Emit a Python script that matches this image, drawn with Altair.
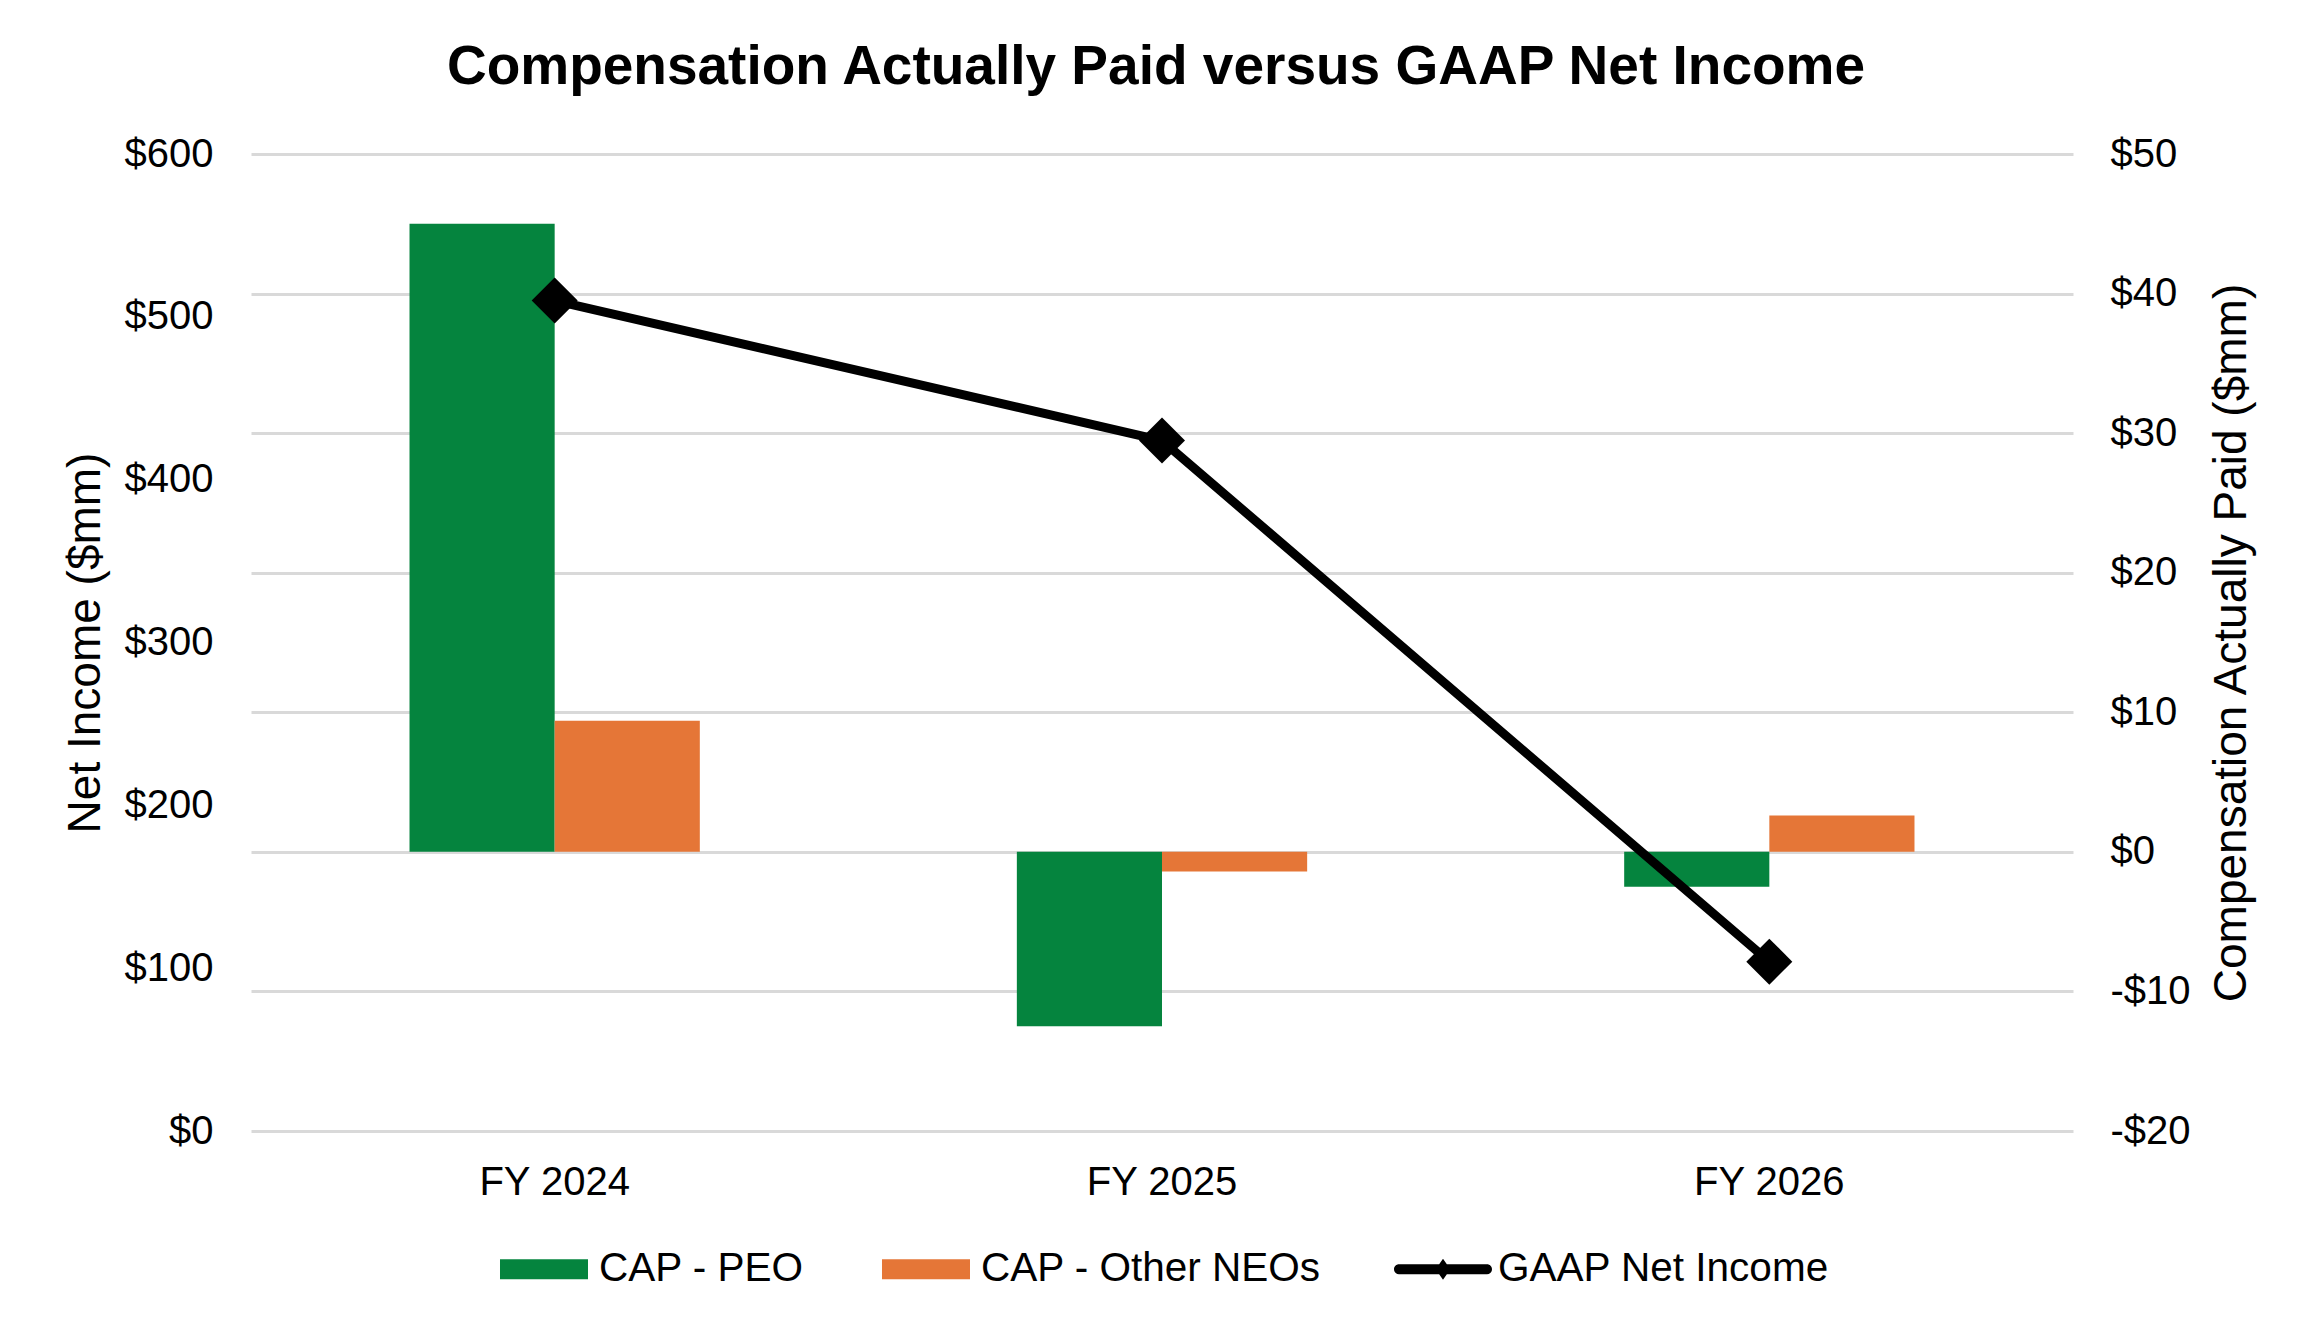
import altair as alt
import pandas as pd

# ---- data ----
years = ["FY 2024", "FY 2025", "FY 2026"]
cap_peo = [45.0, -12.5, -2.5]
cap_other = [9.4, -1.4, 2.6]
net_income = [510, 424, 104]
series_names = ["CAP - PEO", "CAP - Other NEOs", "GAAP Net Income"]
series_colors = ["#05843E", "#E57637", "#000000"]
left_ticks = [0, 100, 200, 300, 400, 500, 600]
right_ticks = [-20, -10, 0, 10, 20, 30, 40, 50]

F = "Liberation Sans"

bars_df = pd.DataFrame({
    "year": years + years,
    "series": [series_names[0]] * 3 + [series_names[1]] * 3,
    "cap": cap_peo + cap_other,
})
line_df = pd.DataFrame({"year": years, "ni": net_income})
legend_df = pd.DataFrame({"series": series_names})

# legend symbol paths (unit coords)
rect_path = "M-0.898,-0.204H0.898V0.204H-0.898Z"
line_path = ("M-0.898,-0.102H0.898A0.102,0.102 0 0 1 0.898,0.102"
             "H-0.898A0.102,0.102 0 0 1 -0.898,-0.102Z "
             "M-0.15,0L0,-0.214L0.15,0L0,0.214Z")
diamond_path = "M0,-1L1,0L0,1L-1,0Z"

x_enc = alt.X(
    "year:N", sort=years,
    scale=alt.Scale(paddingInner=0.522, paddingOuter=0.261),
    axis=alt.Axis(title=None, labelAngle=0, labelFontSize=40, labelPadding=31,
                  ticks=False, domain=False, grid=False),
)

bars = alt.Chart(bars_df).mark_bar().encode(
    x=x_enc,
    xOffset=alt.XOffset("series:N", sort=series_names[:2],
                        scale=alt.Scale(paddingInner=0, paddingOuter=0)),
    y=alt.Y("cap:Q",
            scale=alt.Scale(domain=[-20, 50], nice=False, zero=False),
            axis=alt.Axis(orient="right", values=right_ticks, grid=True,
                          gridColor="#D9D9D9", gridWidth=3,
                          ticks=False, domain=False,
                          labelExpr="datum.value < 0 ? '-$' + abs(datum.value) : '$' + datum.value",
                          labelFontSize=40, labelPadding=37, labelAlign="left",
                          title="Compensation Actually Paid ($mm)",
                          titleFontSize=46, titleFontWeight="normal",
                          titleAngle=270, titleBaseline="top",
                          titlePadding=19)),
    color=alt.Color("series:N",
                    scale=alt.Scale(domain=series_names[:2], range=series_colors[:2]),
                    legend=None),
)

line = alt.Chart(line_df).mark_line(
    color="black", strokeWidth=9, strokeJoin="round", strokeCap="round",
    point=alt.OverlayMarkDef(shape=diamond_path, size=2116, filled=True,
                             color="black", opacity=1),
).encode(
    x=x_enc,
    y=alt.Y("ni:Q",
            scale=alt.Scale(domain=[0, 600], nice=False),
            axis=alt.Axis(orient="left", values=left_ticks, grid=False,
                          ticks=False, domain=False,
                          labelExpr="'$' + datum.value",
                          labelFontSize=40, labelPadding=38,
                          title="Net Income ($mm)", titleFontSize=46,
                          titleFontWeight="normal", titlePadding=15)),
)

leg = alt.Legend(
    orient="none", legendX=244, legendY=1066, direction="horizontal",
    title=None, symbolSize=9604, symbolStrokeWidth=0, symbolOpacity=1,
    labelFontSize=40.5, labelFont=F, labelColor="black", labelOffset=6,
    columnPadding=73, labelLimit=1000,
)

legend_layer = alt.Chart(legend_df).mark_point(filled=True, opacity=1, strokeWidth=0).encode(
    fill=alt.Fill("series:N", scale=alt.Scale(domain=series_names, range=series_colors),
                  legend=leg),
    shape=alt.Shape("series:N",
                    scale=alt.Scale(domain=series_names, range=[rect_path, rect_path, line_path]),
                    legend=leg),
).transform_filter("false")

chart = alt.layer(bars, line, legend_layer).resolve_scale(
    y="independent"
).properties(
    width=1822, height=977,
    background="white",
    autosize=alt.AutoSizeParams(type="none"),
    padding={"left": 243, "top": 146, "right": 225, "bottom": 180},
    title=alt.Title("Compensation Actually Paid versus GAAP Net Income",
                    fontSize=55, font=F, fontWeight="bold", color="black",
                    anchor="middle", frame="group", baseline="alphabetic",
                    offset=69, dx=-6, dy=74),
).configure_view(stroke=None).configure_axis(
    labelFont=F, titleFont=F, labelColor="black", titleColor="black",
    titleFontWeight="normal", ticks=False, domain=False,
)

chart.save("out.html", embed_options={"renderer": "svg", "actions": False})
